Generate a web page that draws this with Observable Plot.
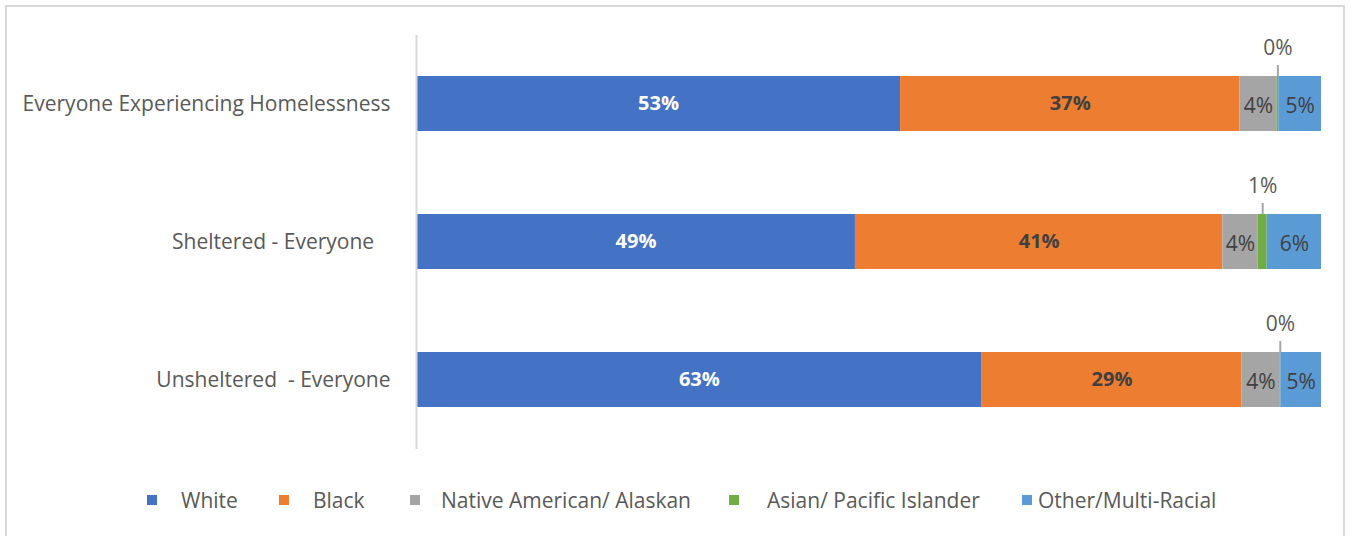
<!DOCTYPE html>
<html>
<head>
<meta charset="utf-8">
<script src="https://cdn.jsdelivr.net/npm/d3@7"></script>
<script src="https://cdn.jsdelivr.net/npm/@observablehq/plot@0.6"></script>
<style>
  html, body { margin: 0; padding: 0; background: #fff; }
  body { width: 1351px; height: 536px; position: relative; overflow: hidden; font-family: "Open Sans", sans-serif; }
  #frame { position: absolute; left: 5px; top: 5px; width: 1340px; height: 540px; border: 2px solid #d9d9d9; box-sizing: border-box; }
  #chart { position: absolute; left: 0; top: 0; }
  .leg { position: absolute; top: 486px; font-size: 21px; color: #595959; white-space: nowrap; line-height: 28px; }
  .sw { position: absolute; top: 495px; width: 10px; height: 10px; }
</style>
</head>
<body>
<div id="frame"></div>
<div id="chart"></div>
<div id="legend"></div>
<script>
// ---- data ----
const categories = ["Everyone Experiencing Homelessness", "Sheltered - Everyone\u00a0\u00a0\u00a0", "Unsheltered\u00a0 - Everyone"];
const races = ["White", "Black", "Native American/ Alaskan", "Asian/ Pacific Islander", "Other/Multi-Racial"];
const raceColors = ["#4472C4", "#ED7D31", "#A5A5A5", "#70AD47", "#5B9BD5"];
const whiteValues = [53.49, 48.5, 62.5];
const blackValues = [37.49, 40.6, 28.7];
const nativeValues = [4.1, 3.9, 4.2];
const asianValues = [0.2, 1.0, 0.1];
const otherValues = [4.72, 6.0, 4.5];

const seriesValues = [whiteValues, blackValues, nativeValues, asianValues, otherValues];
const rows = [];
categories.forEach((cat, i) => {
  races.forEach((race, j) => rows.push({cat, race, value: seriesValues[j][i]}));
});
const pct = d => Math.round(d.value) + "%";
const ASIAN = "Asian/ Pacific Islander";

// midpoint of the Asian segment for each category (for the callout leader)
const asianRows = categories.map((cat, i) => ({
  cat,
  value: asianValues[i],
  mid: whiteValues[i] + blackValues[i] + nativeValues[i] + asianValues[i] / 2
}));

const stack = extra => Plot.stackX({x: "value", y: "cat", z: "race", ...extra});

const chart = Plot.plot({
  width: 1351,
  height: 470,
  marginLeft: 416,
  marginRight: 30,
  marginTop: 35,
  marginBottom: 21,
  style: {fontFamily: "Open Sans", fontSize: "21px", color: "#595959", background: "transparent"},
  x: {domain: [0, 100], axis: null},
  y: {domain: categories, paddingInner: 0.6, paddingOuter: 0.3, label: null, tickSize: 0, tickPadding: 26},
  color: {domain: races, range: raceColors},
  marks: [
    Plot.barX(rows, stack({fill: "race"})),
    Plot.ruleX([0], {stroke: "#d9d9d9", strokeWidth: 2}),
    Plot.text(rows, stack({text: d => d.race === "White" ? pct(d) : null, fill: "white", fontWeight: "bold", fontSize: 20})),
    Plot.text(rows, stack({text: d => d.race === "Black" ? pct(d) : null, fill: "#404040", fontWeight: "bold", fontSize: 20})),
    Plot.text(rows, stack({text: d => (d.race === "Native American/ Alaskan" || d.race === "Other/Multi-Racial") ? pct(d) : null, fill: "#404040", fontSize: 21, dy: 2})),
    Plot.tickX(asianRows, {x: "mid", y: "cat", stroke: "#a6a6a6", strokeWidth: 2, insetTop: -11, insetBottom: 55}),
    Plot.text(asianRows, {x: "mid", y: "cat", text: pct, fill: "#595959", fontSize: 21, dy: -56})
  ]
});
document.getElementById("chart").appendChild(chart);

// legend
const swLeft = [147, 279, 410, 729, 1022];
const txtLeft = [181, 313, 441, 767, 1038];
const leg = document.getElementById("legend");
races.forEach((r, i) => {
  const s = document.createElement("div");
  s.className = "sw"; s.style.left = swLeft[i] + "px"; s.style.background = raceColors[i];
  leg.appendChild(s);
  const t = document.createElement("div");
  t.className = "leg"; t.style.left = txtLeft[i] + "px"; t.textContent = r;
  leg.appendChild(t);
});
</script>
</body>
</html>
